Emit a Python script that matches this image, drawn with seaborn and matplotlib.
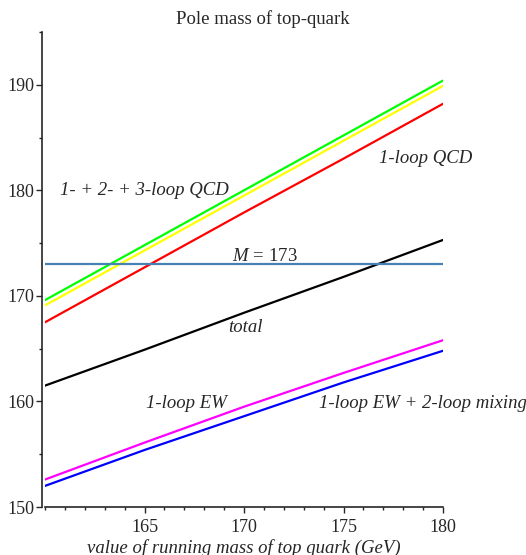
import numpy as np
import pandas as pd
import matplotlib
matplotlib.use("Agg")
import matplotlib.pyplot as plt
import seaborn as sns
from matplotlib.ticker import MultipleLocator

# ---- data ----
x_vals = [160, 165, 170, 175, 180]
qcd123 = [169.6, 174.8, 180.0, 185.2, 190.4]      # green
qcd12 = [169.1, 174.3, 179.5, 184.7, 189.9]       # yellow
qcd1 = [167.5, 172.7, 177.9, 183.0, 188.2]        # red
total = [161.5, 164.9, 168.4, 171.8, 175.3]       # black
ew1 = [152.6, 156.1, 159.5, 162.7, 165.8]         # magenta
ew_mix = [152.0, 155.4, 158.6, 161.8, 164.8]      # blue
M_line = 173

series_names = ["qcd123", "qcd12", "qcd1", "total", "ew1", "ew_mix"]
series_vals = [qcd123, qcd12, qcd1, total, ew1, ew_mix]
series_colors = ["#00FF00", "#FFFF00", "#FF0000", "#000000", "#FF00FF", "#0000FF"]

df = pd.DataFrame({
    "x": np.tile(x_vals, len(series_names)),
    "y": np.concatenate(series_vals),
    "series": np.repeat(series_names, len(x_vals)),
})

sns.set_style("ticks")
plt.rcParams["font.family"] = ["Liberation Serif", "DejaVu Serif"]
plt.rcParams["mathtext.fontset"] = "custom"
plt.rcParams["mathtext.rm"] = "Liberation Serif"
plt.rcParams["mathtext.it"] = "Liberation Serif:italic"

fig = plt.figure(figsize=(5.26, 5.55), dpi=100)
ax = fig.add_axes([45/526, 1-507/555, (443-45)/526, (507-32)/555])

sns.lineplot(data=df, x="x", y="y", hue="series", hue_order=series_names,
             palette=dict(zip(series_names, series_colors)), linewidth=1.6,
             legend=False, ax=ax, sort=True)
ax.axhline(M_line, color="#4682B4", linewidth=1.6)

ax.set_xlim(160, 180)
ax.set_ylim(150, 195)
ax.xaxis.set_major_locator(MultipleLocator(5))
ax.xaxis.set_minor_locator(MultipleLocator(1))
ax.yaxis.set_major_locator(MultipleLocator(10))
ax.yaxis.set_minor_locator(MultipleLocator(5))
ax.set_xticks([165, 170, 175, 180])
ax.set_yticks([150, 160, 170, 180, 190])

for s in ["top", "right"]:
    ax.spines[s].set_visible(False)
ax.spines["left"].set_position(("outward", 2))
ax.spines["left"].set_linewidth(1.2)
ax.spines["bottom"].set_linewidth(1.2)

ax.tick_params(axis="both", which="major", labelsize=13, width=1, direction="out")
ax.tick_params(axis="y", which="major", length=4, pad=1.5)
ax.tick_params(axis="y", which="minor", length=2.5, width=1)
ax.tick_params(axis="x", which="major", length=4.5, pad=4)
ax.tick_params(axis="x", which="minor", length=2.5, width=1)

ax.set_xlabel("value of running mass of top quark (GeV)", fontsize=13.5,
              style="italic", labelpad=2)
ax.set_ylabel("")
ttl = ax.set_title("Pole mass of top-quark", fontsize=13.5, pad=6)
ttl.set_x((263 - 45) / 398)

fs = 13.5
tkw = dict(fontsize=fs, style="italic", ha="center", va="center")
ax.text(165.0, 180.0, "1- + 2- + 3-loop QCD", **tkw)
ax.text(179.15, 183.0, "1-loop QCD", **tkw)
ax.text(171.05, 173.75, "$M\\,=\\,173$", fontsize=fs, ha="center", va="center")
ax.text(170.05, 167.0, "total", **tkw)
ax.text(167.1, 159.85, "1-loop EW", **tkw)
ax.text(179.0, 159.85, "1-loop EW + 2-loop mixing", **tkw)

fig.savefig("out.png", dpi=100)
